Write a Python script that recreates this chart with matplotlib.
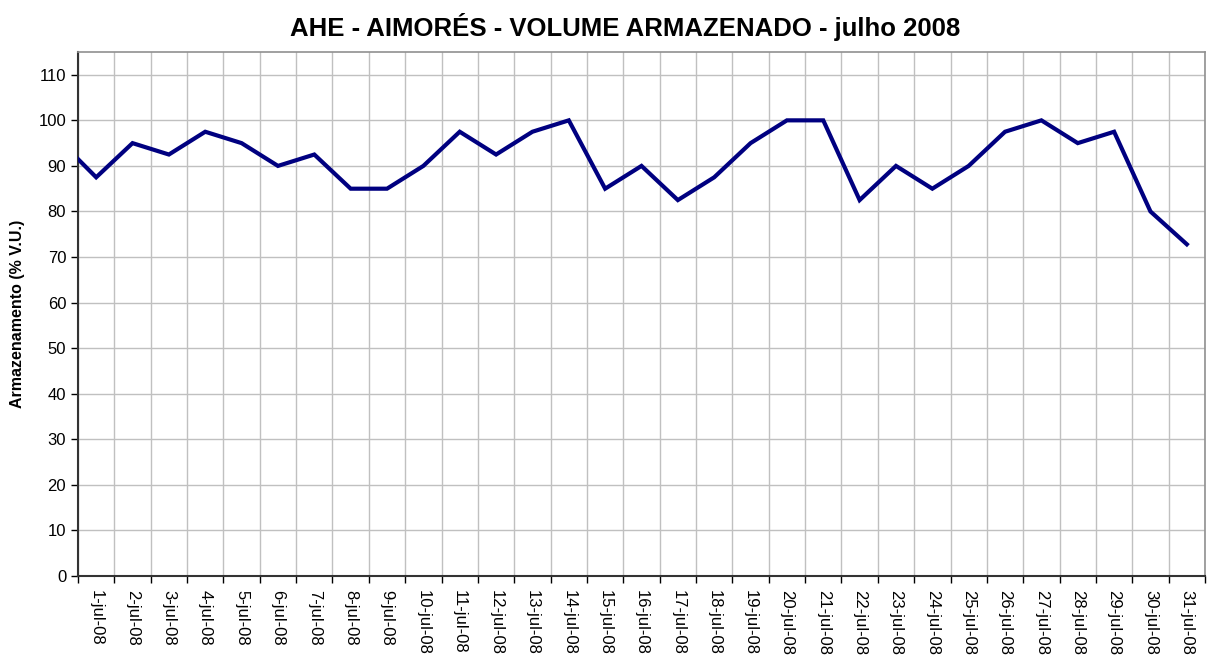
import numpy as np
import matplotlib.pyplot as plt

plt.rcParams['font.family'] = ['Liberation Sans', 'DejaVu Sans']

# dias de julho 2008 (o primeiro valor é 30-jun, fica fora da área do gráfico)
dias = ['30-jun-08'] + [f'{d}-jul-08' for d in range(1, 32)]
armazenamento = [95.5, 87.5, 95, 92.5, 97.5, 95, 90, 92.5, 85, 85, 90,
                 97.5, 92.5, 97.5, 100, 85, 90, 82.5, 87.5, 95, 100,
                 100, 82.5, 90, 85, 90, 97.5, 100, 95, 97.5, 80, 72.8]
y_ticks = list(range(0, 111, 10))

x = np.arange(len(dias)) - 1

fig = plt.figure(figsize=(12.17, 6.56), dpi=100)
ax = fig.add_axes([78 / 1217, 80 / 656, (1205 - 78) / 1217, (576 - 52) / 656])

ax.plot(x, armazenamento, color='#000080', lw=3.0, solid_joinstyle='miter',
        clip_on=True, zorder=3)

ax.set_xlim(-0.5, 30.5)
ax.set_ylim(0, 115)

# grade e ticks
ax.set_xticks(np.arange(-0.5, 31, 1))
ax.set_xticklabels([])
ax.set_xticks(x[1:], minor=True)
ax.set_xticklabels(dias[1:], minor=True, rotation=-90, fontsize=12,
                   va='top', ha='center')
ax.tick_params(axis='x', which='minor', length=0, pad=10)
ax.tick_params(axis='x', which='major', length=5, width=1, direction='out')
ax.set_yticks(y_ticks)
ax.tick_params(axis='y', length=5, width=1, direction='out', labelsize=12)
ax.grid(True, which='major', color='#c0c0c0', lw=1)
ax.set_axisbelow(True)

for s in ['top', 'right']:
    ax.spines[s].set_color('#909090')
    ax.spines[s].set_linewidth(1.2)
for s in ['left', 'bottom']:
    ax.spines[s].set_color('#333333')
    ax.spines[s].set_linewidth(1.5)

ax.set_ylabel('Armazenamento (% V.U.)', fontsize=11.5, fontweight='bold', labelpad=10)
fig.suptitle('AHE - AIMORÉS - VOLUME ARMAZENADO - julho 2008', x=625 / 1217,
             y=1 - 27 / 656, va='center', fontsize=18.5, fontweight='bold')

fig.savefig('out.png', dpi=100)
